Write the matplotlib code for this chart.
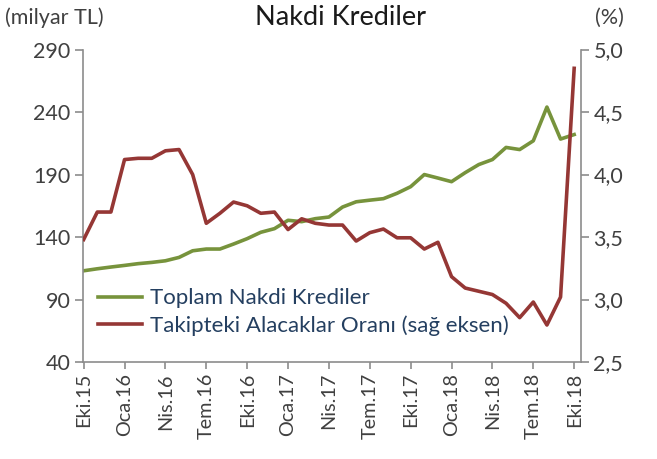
import matplotlib
matplotlib.use("Agg")
import matplotlib.pyplot as plt
import numpy as np

plt.rcParams['font.family'] = ['Lato', 'DejaVu Sans']

months = ["Eki.15", "Kas.15", "Ara.15", "Oca.16", "Şub.16", "Mar.16", "Nis.16", "May.16", "Haz.16",
          "Tem.16", "Ağu.16", "Eyl.16", "Eki.16", "Kas.16", "Ara.16", "Oca.17", "Şub.17", "Mar.17",
          "Nis.17", "May.17", "Haz.17", "Tem.17", "Ağu.17", "Eyl.17", "Eki.17", "Kas.17", "Ara.17",
          "Oca.18", "Şub.18", "Mar.18", "Nis.18", "May.18", "Haz.18", "Tem.18", "Ağu.18", "Eyl.18",
          "Eki.18"]

toplam_nakdi = [113, 114.6, 116, 117.3, 118.7, 119.7, 121, 123.7, 129, 130.4, 130.4, 134.4, 138.7,
                143.8, 146.7, 153.4, 152.3, 154.7, 156, 164, 168.2, 169.5, 170.7, 175, 180.3,
                190, 187.2, 184.3, 191.5, 198, 202, 211.7, 210, 217, 244, 218.4, 222]

takipteki_oran = [3.48, 3.70, 3.70, 4.12, 4.13, 4.13, 4.19, 4.20, 4.00, 3.61, 3.69, 3.78, 3.75,
                  3.69, 3.70, 3.56, 3.646, 3.61, 3.596, 3.596, 3.468, 3.535, 3.564, 3.494, 3.494,
                  3.404, 3.458, 3.183, 3.092, 3.066, 3.04, 2.97, 2.855, 2.98, 2.796, 3.02, 4.85]

left_ticks = [40, 90, 140, 190, 240, 290]
right_ticks = [2.5, 3.0, 3.5, 4.0, 4.5, 5.0]

green = "#77933C"
red = "#953735"
txt = "#404040"
spine_c = "#8C8C8C"

fig = plt.figure(figsize=(6.57, 4.59), dpi=100)
ax = fig.add_axes([0.1263, 0.2113, 0.8843 - 0.1263, 0.892 - 0.2113])
ax2 = ax.twinx()

x = np.arange(len(months))
l1, = ax.plot(x, toplam_nakdi, color=green, lw=2.6, label="Toplam Nakdi Krediler")
l2, = ax2.plot(x, takipteki_oran, color=red, lw=2.6, label="Takipteki Alacaklar Oranı (sağ eksen)")

ax.set_ylim(40, 290)
ax2.set_ylim(2.5, 5.0)
ax.set_xlim(-0.05, 36.5)
ax.set_yticks(left_ticks)
ax.set_yticklabels([str(v) for v in left_ticks])
ax2.set_yticks(right_ticks)
ax2.set_yticklabels([f"{v:.1f}".replace(".", ",") for v in right_ticks])

ax.set_xticks(x[::3])
ax.set_xticklabels(months[::3], rotation=90)

for a in (ax, ax2):
    a.spines['top'].set_visible(False)
    for s in ('left', 'right', 'bottom'):
        a.spines[s].set_color(spine_c)
        a.spines[s].set_linewidth(1.2)
ax.spines['right'].set_visible(False)
ax2.spines['left'].set_visible(False)
ax2.spines['bottom'].set_visible(False)

ax.tick_params(axis='y', direction='out', length=6, width=1.2, color=spine_c, labelsize=15.5, labelcolor=txt, pad=3)
ax2.tick_params(axis='y', direction='out', length=6, width=1.2, color=spine_c, labelsize=15.5, labelcolor=txt, pad=3)
ax.tick_params(axis='x', direction='out', length=5, width=1.2, color=spine_c, labelsize=14.3, labelcolor=txt, pad=3)

leg = ax.legend(handles=[l1, l2], loc='center left', bbox_to_anchor=(0.03, 0.16), frameon=False,
                fontsize=16, handlelength=2.0, handletextpad=0.35, labelspacing=0.3,
                borderaxespad=0, borderpad=0)
for t in leg.get_texts():
    t.set_color("#243F60")

fig.text(0.518, 0.962, "Nakdi Krediler", ha='center', va='center', fontsize=19.5, color="#1A1A1A")
fig.text(0.008, 0.962, "(milyar TL)", ha='left', va='center', fontsize=15.5, color=txt)
fig.text(0.928, 0.962, "(%)", ha='center', va='center', fontsize=15.5, color=txt)

fig.savefig("out.png", dpi=100)
